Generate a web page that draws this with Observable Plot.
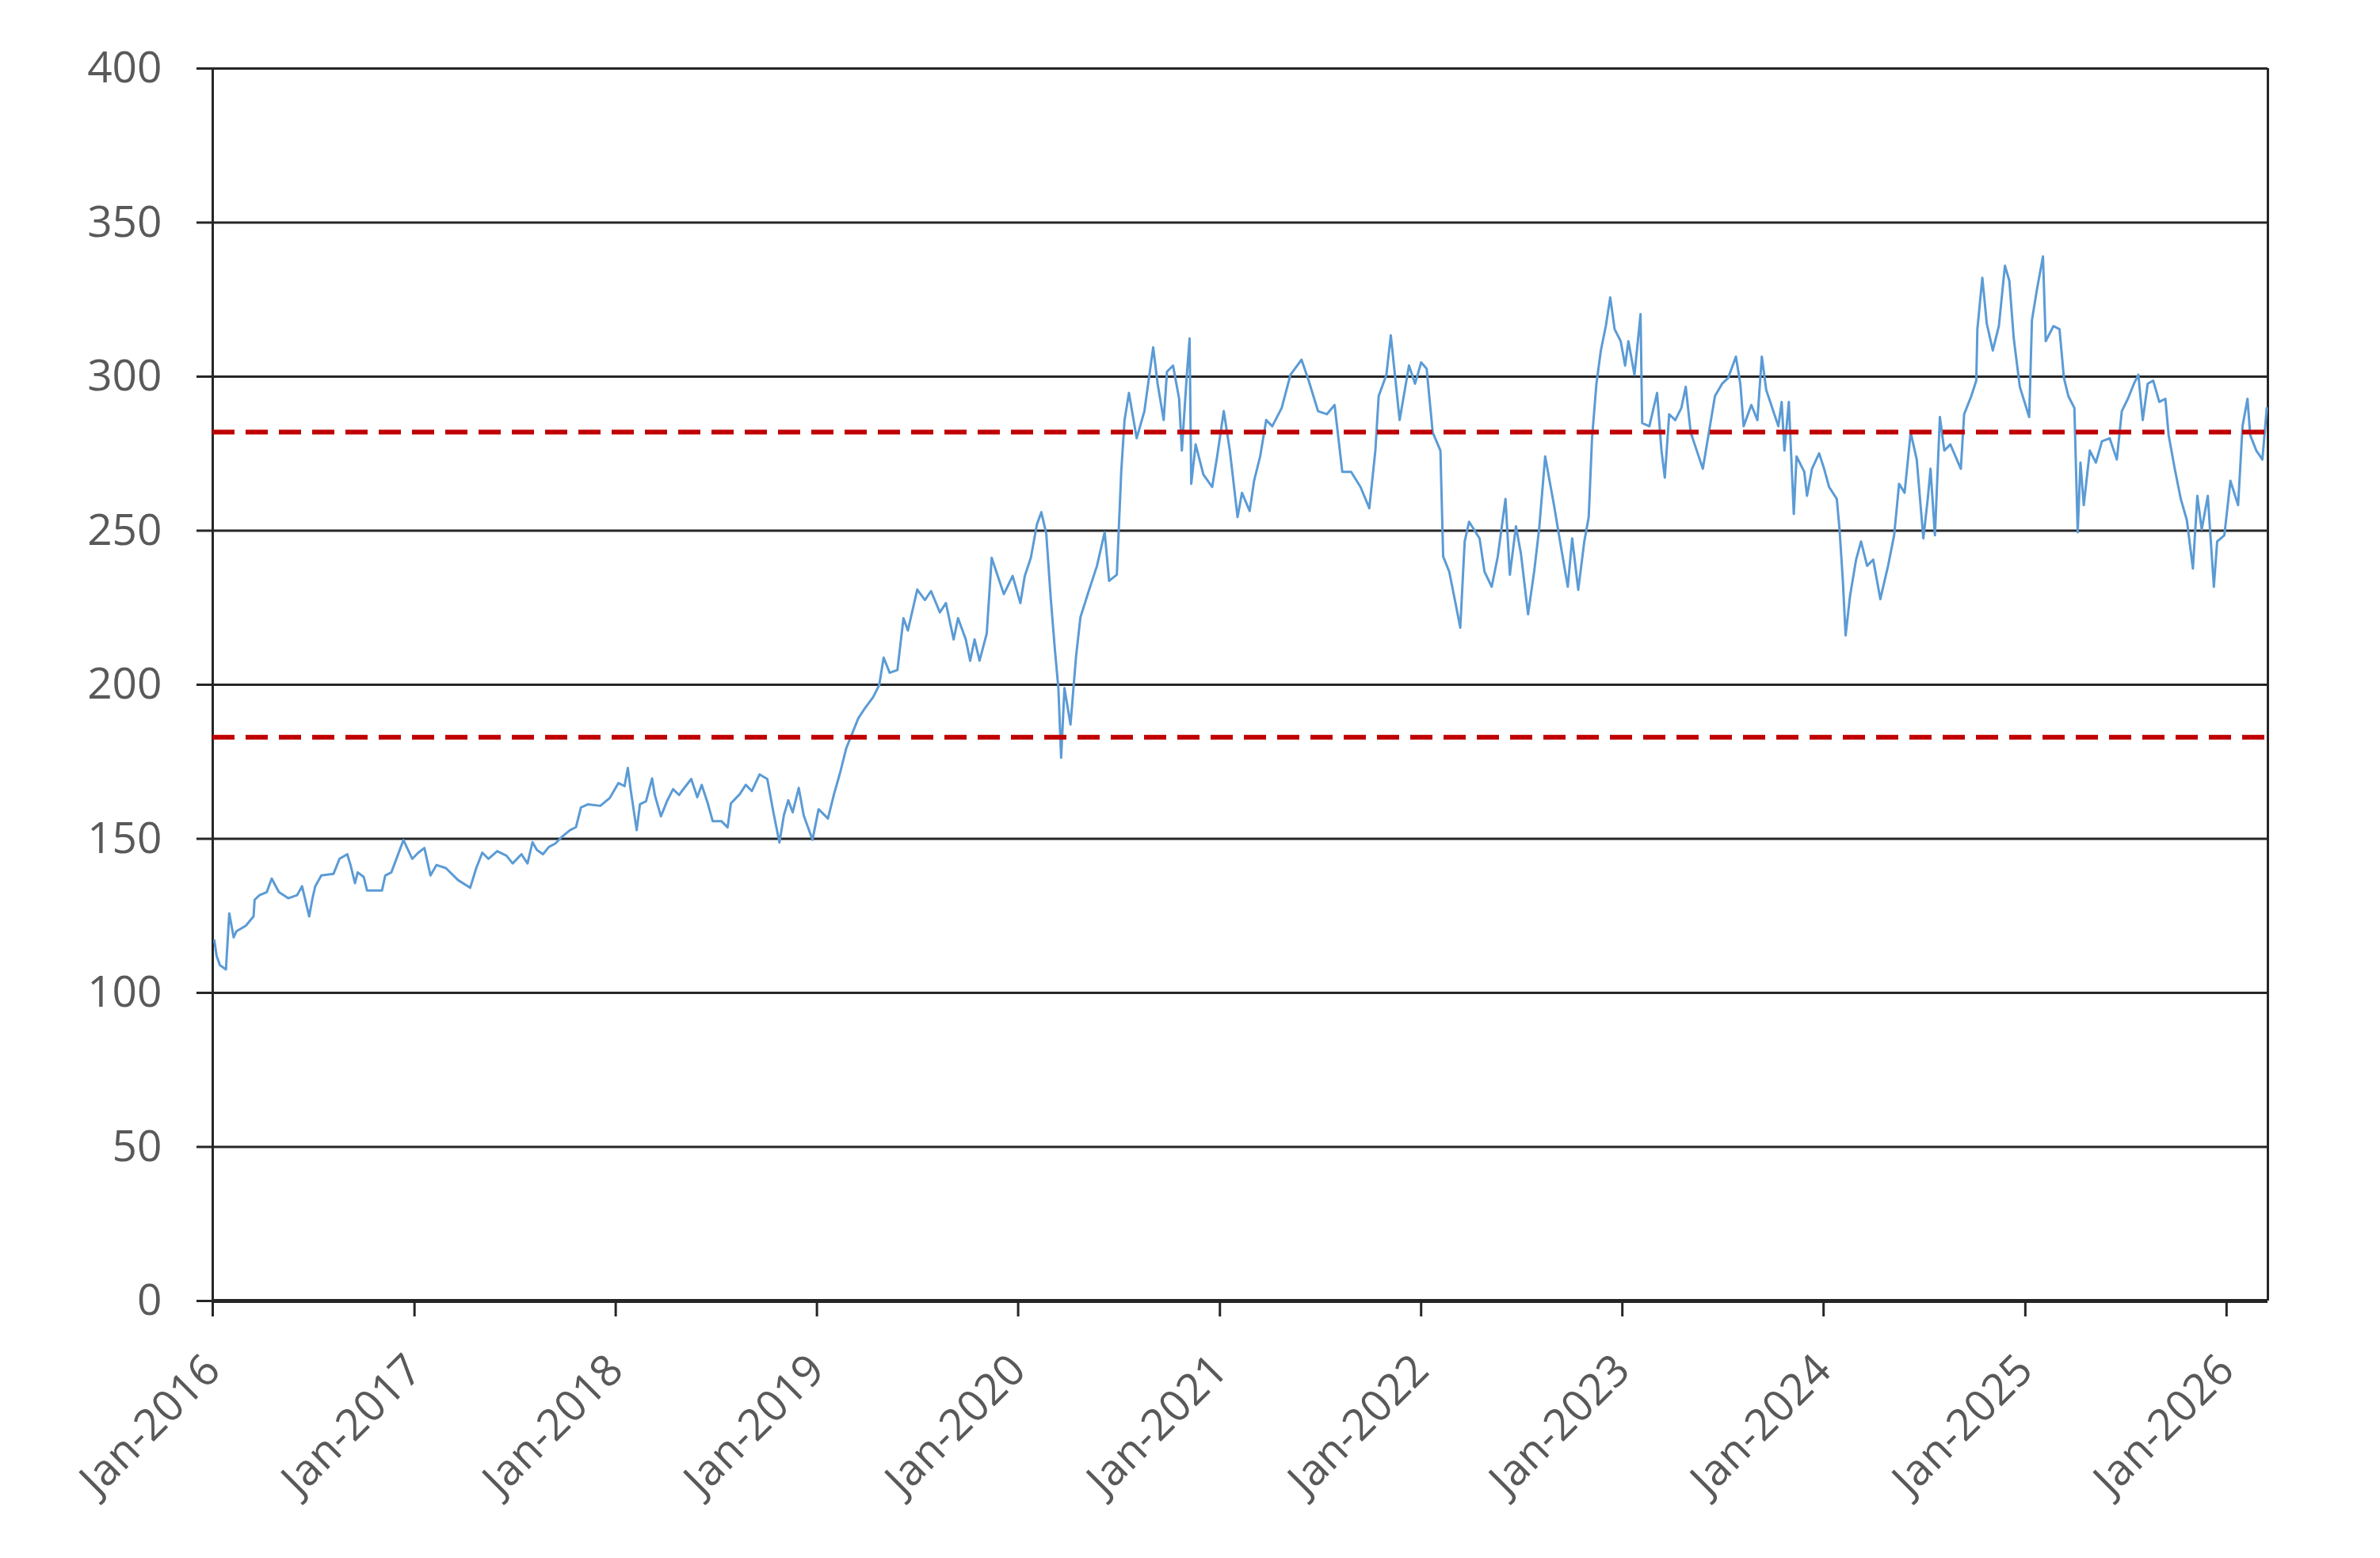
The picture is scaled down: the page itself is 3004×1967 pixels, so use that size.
<!DOCTYPE html>
<html><head><meta charset="utf-8">
<script src="https://cdn.jsdelivr.net/npm/d3@7"></script>
<script src="https://cdn.jsdelivr.net/npm/@observablehq/plot@0.6"></script>
<style>html,body{margin:0;padding:0;background:#fff;}</style>
</head><body><div id="chart"></div>
<script>
const dates = [
"2016-01-04","2016-01-08","2016-01-14","2016-01-25","2016-01-31","2016-02-08","2016-02-13","2016-03-01","2016-03-15","2016-03-17","2016-03-26","2016-04-08","2016-04-17","2016-04-30","2016-05-17","2016-06-02","2016-06-11","2016-06-24","2016-06-30","2016-07-05","2016-07-16","2016-08-07","2016-08-18","2016-09-01","2016-09-07","2016-09-15","2016-09-20","2016-10-01","2016-10-07","2016-11-03","2016-11-09","2016-11-20","2016-12-12","2016-12-28",
"2017-01-08","2017-01-19","2017-01-30","2017-02-10","2017-02-27","2017-03-21","2017-04-12","2017-04-23","2017-05-04","2017-05-15","2017-05-31","2017-06-17","2017-06-28","2017-07-14","2017-07-25","2017-08-03","2017-08-11","2017-08-22","2017-09-02","2017-09-13","2017-09-24","2017-10-10","2017-10-21","2017-10-30","2017-11-12","2017-12-04","2017-12-21",
"2018-01-06","2018-01-17","2018-01-23","2018-01-28","2018-02-08","2018-02-14","2018-02-25","2018-03-08","2018-03-13","2018-03-24","2018-04-04","2018-04-15","2018-04-26","2018-05-01","2018-05-18","2018-05-29","2018-06-06","2018-06-17","2018-06-26","2018-07-12","2018-07-23","2018-07-29","2018-08-14","2018-08-25","2018-09-05","2018-09-19","2018-10-03","2018-10-14","2018-10-25","2018-11-02","2018-11-10","2018-11-18","2018-11-29","2018-12-08","2018-12-24",
"2019-01-04","2019-01-21","2019-02-01","2019-02-12","2019-02-23","2019-03-06","2019-03-17","2019-03-28","2019-04-13","2019-04-24","2019-05-02","2019-05-13","2019-05-27","2019-06-07","2019-06-15","2019-07-02","2019-07-16","2019-07-27","2019-08-12","2019-08-23","2019-09-06","2019-09-14","2019-09-28","2019-10-06","2019-10-14","2019-10-23","2019-11-05","2019-11-14","2019-12-06","2019-12-22",
"2020-01-05","2020-01-13","2020-01-24","2020-02-04","2020-02-12","2020-02-21","2020-02-29","2020-03-08","2020-03-14","2020-03-19","2020-03-25","2020-04-05","2020-04-15","2020-04-23","2020-05-07","2020-05-23","2020-06-06","2020-06-14","2020-06-28","2020-07-06","2020-07-12","2020-07-20","2020-08-03","2020-08-17","2020-09-02","2020-09-10","2020-09-21","2020-09-27","2020-10-08","2020-10-19","2020-10-24","2020-11-02","2020-11-07","2020-11-10","2020-11-18","2020-12-02","2020-12-18","2020-12-27",
"2021-01-08","2021-01-19","2021-02-02","2021-02-10","2021-02-24","2021-03-04","2021-03-15","2021-03-26","2021-04-06","2021-04-23","2021-05-09","2021-05-29","2021-06-11","2021-06-28","2021-07-14","2021-07-28","2021-08-11","2021-08-27","2021-09-13","2021-09-29","2021-10-10","2021-10-16","2021-10-30","2021-11-07","2021-11-23","2021-12-10","2021-12-21",
"2022-01-01","2022-01-11","2022-01-22","2022-02-05","2022-02-10","2022-02-21","2022-03-04","2022-03-13","2022-03-21","2022-03-29","2022-04-17","2022-04-26","2022-05-09","2022-05-20","2022-06-03","2022-06-11","2022-06-22","2022-07-01","2022-07-14","2022-07-25","2022-08-03","2022-08-14","2022-08-22","2022-08-30","2022-09-10","2022-09-24","2022-10-02","2022-10-13","2022-10-24","2022-11-01","2022-11-07","2022-11-15","2022-11-23","2022-12-02","2022-12-10","2022-12-18","2022-12-29",
"2023-01-06","2023-01-12","2023-01-23","2023-02-03","2023-02-06","2023-02-19","2023-03-05","2023-03-13","2023-03-19","2023-03-27","2023-04-07","2023-04-18","2023-04-26","2023-05-05","2023-05-16","2023-05-27","2023-06-07","2023-06-18","2023-07-01","2023-07-12","2023-07-26","2023-08-03","2023-08-09","2023-08-23","2023-09-03","2023-09-11","2023-09-19","2023-09-30","2023-10-11","2023-10-17","2023-10-22","2023-10-30","2023-11-08","2023-11-13","2023-11-27","2023-12-02","2023-12-11","2023-12-24",
"2024-01-02","2024-01-11","2024-01-25","2024-01-30","2024-02-05","2024-02-10","2024-02-18","2024-02-29","2024-03-09","2024-03-20","2024-03-31","2024-04-13","2024-04-27","2024-05-08","2024-05-17","2024-05-27","2024-06-07","2024-06-18","2024-06-30","2024-07-08","2024-07-13","2024-07-21","2024-07-30","2024-08-07","2024-08-18","2024-09-06","2024-09-12","2024-09-25","2024-10-04","2024-10-06","2024-10-15","2024-10-23","2024-11-03","2024-11-14","2024-11-25","2024-12-03","2024-12-11","2024-12-22",
"2025-01-08","2025-01-13","2025-01-22","2025-02-02","2025-02-07","2025-02-21","2025-03-04","2025-03-12","2025-03-20","2025-03-31","2025-04-06","2025-04-11","2025-04-17","2025-04-28","2025-05-09","2025-05-20","2025-06-03","2025-06-16","2025-06-25","2025-07-06","2025-07-17","2025-07-25","2025-08-02","2025-08-11","2025-08-21","2025-09-01","2025-09-12","2025-09-18","2025-09-29","2025-10-10","2025-10-21","2025-11-01","2025-11-09","2025-11-17","2025-11-28","2025-12-09","2025-12-15","2025-12-28",
"2026-01-08","2026-01-22","2026-01-30","2026-02-08","2026-02-13","2026-02-24","2026-03-07","2026-03-15"
];
const values = [
117,112,109,107.6,125.8,118,120,121.8,124.8,130.2,131.7,132.7,137.1,132.7,130.7,131.7,134.6,124.8,130.7,134.6,138.1,138.6,143.5,145,141.5,135.6,139.1,137.6,133.2,133.2,138.1,139.1,149.6,143.5,
145.5,147,138.1,141.5,140.5,136.6,134.1,140.5,145.5,143.5,146,144.5,142,145,142,148.9,146.4,145,147.4,148.4,150.4,152.8,153.8,160.2,161.2,160.7,163.2,
168.1,167.1,173,166.1,152.8,161.2,162.2,169.6,164.2,157.3,162.2,166.1,164.2,165.5,169.4,163.5,167.5,161.5,155.7,155.7,153.7,161.5,164.5,167.5,165.5,170.9,169.4,158.6,148.8,157.6,162.5,158.6,166.5,157.6,149.7,
159.6,156.6,164.5,171.4,179.3,184.2,189.1,192.1,196,199.9,208.8,203.9,204.8,221.6,217.6,230.9,227.5,230.4,223.5,226.5,214.7,221.6,214.7,207.8,214.7,207.8,216.6,241.2,229.4,235.3,
226.5,235.3,241.2,252,256,249.1,228.4,210.7,198.9,176.3,198.9,187.1,209.1,221.9,229.8,238.6,249.5,233.7,235.7,269.1,285.9,294.7,280,288.8,309.5,297.7,285.9,301.6,303.6,292.8,276,300.6,312.4,265.2,278,268.2,264.2,274.1,
288.8,276,254.4,262.3,256.4,266.2,274.1,285.9,283.9,289.8,300.6,305.5,298.7,288.8,287.8,290.8,269.1,269.1,264.2,257.3,276,293.7,300.6,313.4,285.9,303.6,297.7,
304.6,302.6,281.9,276,241.6,236.7,226.8,218.5,246.5,252.9,247.5,236.7,231.8,241.6,260.3,235.7,251.4,242.6,222.9,236.7,250.4,274.1,266.2,258.3,246.5,231.8,247.5,230.8,246.5,254.4,280,297.7,308.5,316.4,325.7,315.4,311.5,
303.6,311.5,300.6,320.3,284.9,283.9,294.7,276,267.2,287.8,285.9,289.8,296.7,281.9,276,270.1,281.9,293.7,297.7,299.6,306.5,297.7,283.9,290.8,285.9,306.5,295.7,289.8,283.9,291.8,276,291.8,255.4,274.1,269.1,261.3,270.1,275.1,
270.1,264.2,260.3,250.4,233.7,216,228.8,240.6,246.5,238.6,240.6,227.8,238.6,248.5,265.2,262.3,281.9,273.1,247.5,260.3,270.1,248.5,286.9,276,278,270.1,287.8,293.7,298.7,315.4,332.1,317.3,308.5,316.4,336,331.1,312.4,296.7,
286.9,318.3,328.2,339,311.5,316.4,315.4,299.6,293.7,289.8,249.5,272.1,258.3,276,272.1,279,280,273.1,288.8,292.8,297.7,300.6,285.9,297.7,298.7,291.8,292.8,281,270.1,260.3,253.4,237.7,261.3,250.4,261.3,231.8,246.5,248.5,
266.2,258.3,283.9,292.8,281,276,273.1,289.8
];
const yTicks = [0, 50, 100, 150, 200, 250, 300, 350, 400];
const tickYears = [2016, 2017, 2018, 2019, 2020, 2021, 2022, 2023, 2024, 2025, 2026];
const thresholds = [183, 282];
const xStart = "2016-01-01";
const xEnd = "2026-03-17";

const data = dates.map((d, i) => ({date: new Date(d), value: values[i]}));
const xTicks = tickYears.map(y => new Date(Date.UTC(y, 0, 1)));
const x0 = new Date(xStart), x1 = new Date(xEnd);
const dark = "#262626";

const chart = Plot.plot({
  width: 3004,
  height: 1967,
  marginLeft: 268,
  marginRight: 142,
  marginTop: 86,
  marginBottom: 325,
  style: {fontFamily: "'Open Sans', sans-serif", fontSize: "55px", background: "#fff", color: "#595959"},
  x: {type: "utc", domain: [x0, x1]},
  y: {domain: [0, 400]},
  marks: [
    Plot.ruleY(yTicks.filter(v => v > 0), {stroke: dark, strokeWidth: 3}),
    Plot.ruleX([x0, x1], {y1: 0, y2: 400, stroke: dark, strokeWidth: 3}),
    Plot.lineY(data, {x: "date", y: "value", stroke: "#5B9BD5", strokeWidth: 3, strokeLinejoin: "round"}),
    Plot.ruleY(thresholds, {stroke: "#C00000", strokeWidth: 6, strokeDasharray: "28,14"}),
    Plot.ruleY([0], {stroke: dark, strokeWidth: 5}),
    Plot.axisY({ticks: yTicks, tickSize: 20, tickPadding: 44, label: null, stroke: dark, strokeWidth: 3, fill: "#595959", tickFormat: d => String(d)}),
    Plot.axisX({ticks: xTicks, tickSize: 20, tickPadding: 58, tickRotate: -45, label: null, stroke: dark, strokeWidth: 3, fill: "#595959", tickFormat: d => "Jan-" + d.getUTCFullYear()})
  ]
});
document.getElementById("chart").appendChild(chart);
</script>
</body></html>
